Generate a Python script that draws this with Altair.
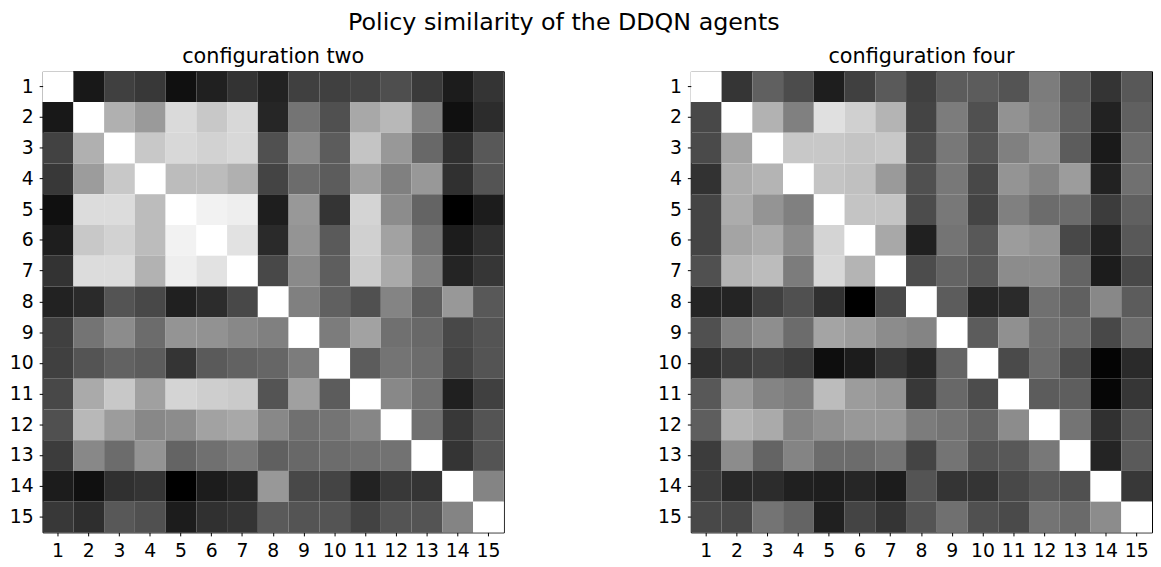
import altair as alt
import pandas as pd

agents = [str(i) for i in range(1, 16)]

# gray level (0 = black, 255 = white) read from each cell, row by row
config_two = [
    [255, 24, 64, 56, 16, 32, 51, 34, 64, 64, 68, 78, 58, 28, 52],
    [24, 255, 176, 154, 218, 200, 216, 38, 116, 80, 168, 184, 128, 16, 44],
    [66, 176, 255, 200, 216, 210, 216, 80, 140, 92, 196, 152, 104, 48, 88],
    [56, 156, 200, 255, 188, 188, 176, 68, 108, 92, 160, 128, 152, 48, 84],
    [16, 220, 220, 188, 255, 242, 238, 30, 152, 52, 212, 140, 100, 0, 28],
    [30, 200, 210, 188, 242, 255, 226, 42, 148, 90, 208, 162, 116, 28, 48],
    [51, 220, 220, 178, 238, 226, 255, 72, 138, 94, 204, 170, 128, 36, 54],
    [34, 42, 84, 72, 32, 44, 72, 255, 128, 96, 80, 132, 94, 152, 88],
    [64, 116, 140, 108, 148, 146, 136, 128, 255, 124, 162, 112, 104, 72, 84],
    [64, 84, 98, 92, 52, 90, 98, 102, 124, 255, 92, 116, 108, 68, 84],
    [72, 170, 200, 160, 212, 206, 202, 84, 160, 92, 255, 136, 112, 32, 64],
    [80, 184, 156, 136, 140, 162, 168, 136, 112, 116, 134, 255, 112, 56, 84],
    [60, 136, 108, 148, 100, 112, 122, 96, 104, 108, 112, 114, 255, 52, 84],
    [28, 16, 48, 52, 0, 28, 36, 152, 72, 68, 34, 56, 52, 255, 132],
    [56, 46, 88, 80, 28, 48, 52, 90, 84, 84, 66, 84, 84, 132, 255],
]

config_four = [
    [255, 53, 96, 76, 30, 64, 90, 64, 92, 92, 84, 124, 88, 52, 88],
    [72, 255, 178, 128, 224, 208, 180, 68, 124, 80, 146, 128, 96, 34, 96],
    [74, 164, 255, 200, 200, 196, 200, 76, 120, 84, 128, 148, 92, 26, 108],
    [50, 172, 180, 255, 196, 192, 154, 80, 120, 72, 148, 132, 156, 34, 112],
    [68, 172, 148, 128, 255, 196, 196, 76, 120, 68, 128, 108, 108, 60, 96],
    [68, 164, 172, 140, 212, 255, 168, 32, 116, 88, 156, 148, 72, 34, 88],
    [80, 180, 188, 124, 216, 180, 255, 76, 100, 88, 140, 140, 100, 28, 72],
    [36, 36, 64, 80, 48, 0, 72, 255, 92, 38, 42, 112, 96, 136, 92],
    [80, 128, 142, 108, 164, 156, 140, 132, 255, 92, 144, 112, 108, 72, 108],
    [48, 60, 68, 60, 14, 28, 54, 40, 100, 255, 74, 108, 76, 4, 42],
    [88, 156, 132, 124, 188, 156, 148, 56, 104, 76, 255, 92, 94, 6, 54],
    [94, 180, 170, 132, 144, 152, 152, 124, 116, 100, 140, 255, 116, 48, 88],
    [60, 140, 100, 132, 108, 108, 116, 68, 116, 84, 88, 120, 255, 36, 90],
    [60, 40, 44, 32, 30, 38, 28, 84, 52, 52, 72, 88, 80, 255, 56],
    [72, 72, 116, 100, 32, 68, 52, 84, 112, 80, 74, 116, 106, 140, 255],
]

FONT = "DejaVu Sans"


def to_long(matrix):
    rows = []
    for i, r in enumerate(matrix):
        for j, v in enumerate(r):
            rows.append({"row": agents[i], "col": agents[j], "gray": v})
    return pd.DataFrame(rows)


def panel(matrix, title):
    return (
        alt.Chart(to_long(matrix))
        .mark_rect()
        .encode(
            x=alt.X("col:O", sort=agents, title=None,
                    axis=alt.Axis(labelAngle=0)),
            y=alt.Y("row:O", sort=agents, title=None),
            color=alt.Color(
                "gray:Q",
                scale=alt.Scale(domain=[0, 255], range=["#000000", "#ffffff"],
                                interpolate="rgb"),
                legend=None,
            ),
        )
        .properties(
            width=466,
            height=466,
            title=alt.TitleParams(title, fontSize=21, font=FONT, fontWeight="normal",
                                  color="black", baseline="alphabetic", offset=-13),
        )
    )


chart = (
    alt.hconcat(panel(config_two, "configuration two"),
                panel(config_four, "configuration four"),
                spacing=153)
    .properties(
        title=alt.TitleParams("Policy similarity of the DDQN agents", fontSize=24,
                              font=FONT, fontWeight="normal", color="black",
                              anchor="middle", baseline="alphabetic", offset=-8,
                              dx=-17),
        padding={"left": 0, "top": 0, "right": 0, "bottom": 0},
    )
    .configure_view(stroke="black", strokeWidth=1)
    .configure_axis(
        labelFont=FONT, labelFontSize=19, labelColor="black",
        tickColor="black", tickSize=3.5, labelPadding=6,
        domain=False, grid=False,
    )
)

chart.save("out.html", embed_options={"renderer": "svg", "actions": False})
